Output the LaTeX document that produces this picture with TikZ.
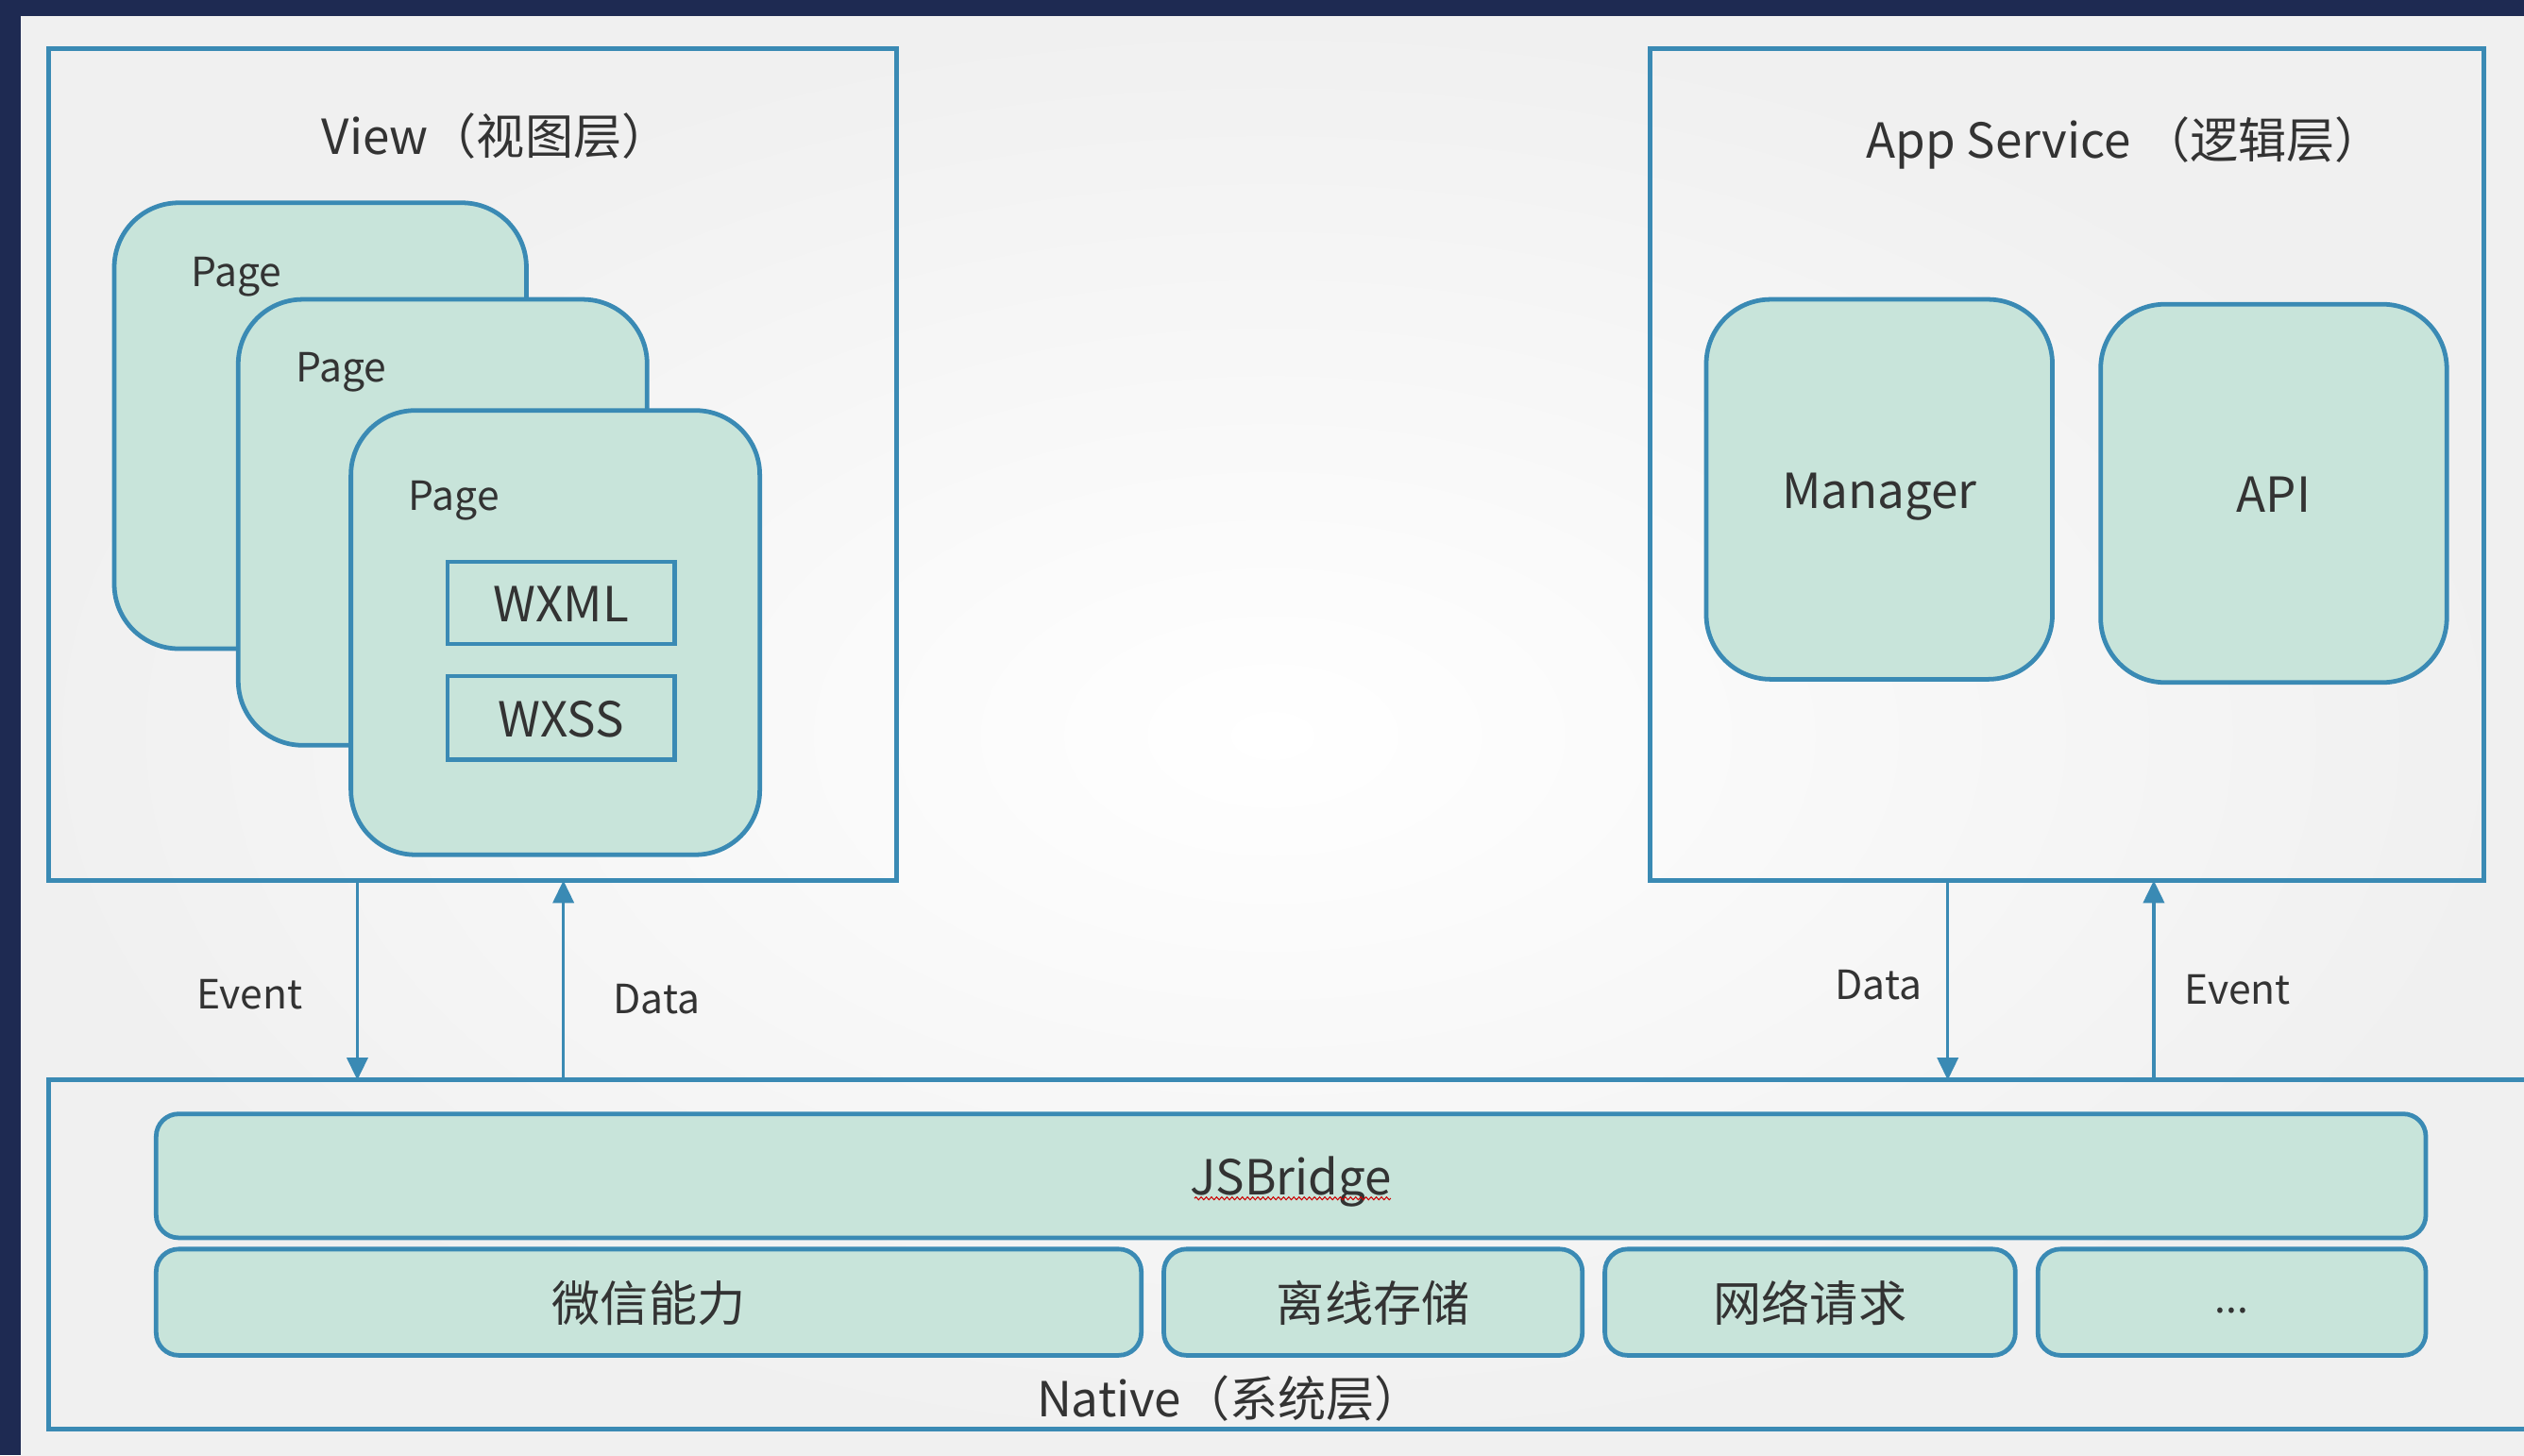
\documentclass[tikz,border=0pt]{standalone}
\usepackage{fontspec}
\setmainfont{Noto Sans CJK SC}
\usetikzlibrary{arrows.meta,decorations.pathmorphing}
\definecolor{navy}{HTML}{1E2A52}
\definecolor{edge}{HTML}{3A8AB4}
\definecolor{mint}{HTML}{C8E4DA}
\definecolor{ink}{HTML}{333333}
\definecolor{bgc}{HTML}{F0F0F0}
\begin{document}
\begin{tikzpicture}[x=1pt,y=-1pt,
  frame/.style={draw=edge, line width=2.8pt, fill=none, inner sep=0pt, outer sep=0pt},
  card/.style={draw=edge, line width=2.8pt, fill=mint, rounded corners=40pt, inner sep=0pt, outer sep=0pt},
  bar/.style={draw=edge, line width=2.8pt, fill=mint, rounded corners=14pt, inner sep=0pt, outer sep=0pt},
  tag/.style={draw=edge, line width=2.8pt, fill=none, inner sep=0pt, outer sep=0pt},
  big/.style={text=ink, font=\fontsize{30}{36}\selectfont, text height=28pt, text depth=4pt},
  small/.style={text=ink, font=\fontsize{25}{30}\selectfont, inner sep=0pt},
  arr/.style={draw=edge, line width=2pt, -{Triangle[length=14pt,width=13pt]}},
]
\useasboundingbox (0,0) rectangle (1568,904);
\fill[navy] (0,0) rectangle (1568,904);
\shade[inner color=white, outer color=bgc] (13,10) rectangle (1568,904);
\clip (0,0) rectangle (1568,904);

% outer layer frames
\node[frame, minimum width=527pt, minimum height=517pt] (view) at (293.5,288.5) {};
\node[frame, minimum width=518pt, minimum height=517pt] (app) at (1284,288.5) {};
\node[frame, minimum width=1570pt, minimum height=217pt] (native) at (815,779.5) {};

% titles
\node[big] (viewt) at (308,84) {View（视图层）};
\node[big] (appt) at (1320,86) {App Service （逻辑层）};
\node[big] (nativet) at (764,868) {Native（系统层）};

% pages
\node[card, minimum width=256pt, minimum height=277pt] (p1) at (199,264.5) {};
\node[small] (p1t) at (147,172) {Page};
\node[card, minimum width=254pt, minimum height=277pt] (p2) at (275,324.5) {};
\node[small] (p2t) at (212,231) {Page};
\node[card, minimum width=254pt, minimum height=276pt] (p3) at (345,393) {};
\node[small] (p3t) at (282,311) {Page};
\node[tag, big, minimum width=141pt, minimum height=51pt] (wxml) at (348.5,374.5) {WXML};
\node[tag, big, minimum width=141pt, minimum height=52pt] (wxss) at (348.5,446) {WXSS};

% app service
\node[card, big, minimum width=215pt, minimum height=236pt] (mgr) at (1167.5,304) {Manager};
\node[card, big, minimum width=215pt, minimum height=235pt] (api) at (1412.5,306.5) {API};

% native
\node[bar, big, minimum width=1410pt, minimum height=77pt] (jsb) at (802,730.5) {JSBridge};
\draw[red!80!black, line width=0.6pt, decorate, decoration={snake, amplitude=0.9pt, segment length=3.2pt}]
  ([xshift=-60pt,yshift=-14pt]jsb.center) coordinate (sq1) -- ([xshift=62pt,yshift=-14pt]jsb.center) coordinate (sq2);
\node[bar, big, minimum width=612pt, minimum height=66pt] (wx) at (403,809) {微信能力};
\node[bar, big, minimum width=260pt, minimum height=66pt] (off) at (853,809) {离线存储};
\node[bar, big, minimum width=255pt, minimum height=66pt] (net) at (1124.5,809) {网络请求};
\node[bar, minimum width=241pt, minimum height=66pt] (more) at (1386.5,809) {};
\node[small] (moret) at (1386.5,814) {...};

% connectors
\coordinate (x1) at (222,0);
\coordinate (x2) at (350,0);
\coordinate (x3) at (1210,0);
\coordinate (x4) at (1338,0);
\draw[arr] (view.south -| x1) -- (native.north -| x1);
\draw[arr] (native.north -| x2) -- (view.south -| x2);
\draw[arr] (app.south -| x3) -- (native.north -| x3);
\draw[arr] (native.north -| x4) -- (app.south -| x4);
\node[small] (l1) at (155,618) {Event};
\node[small] (l2) at (408,621) {Data};
\node[small] (l3) at (1167,612) {Data};
\node[small] (l4) at (1390,615) {Event};
\end{tikzpicture}
\end{document}
